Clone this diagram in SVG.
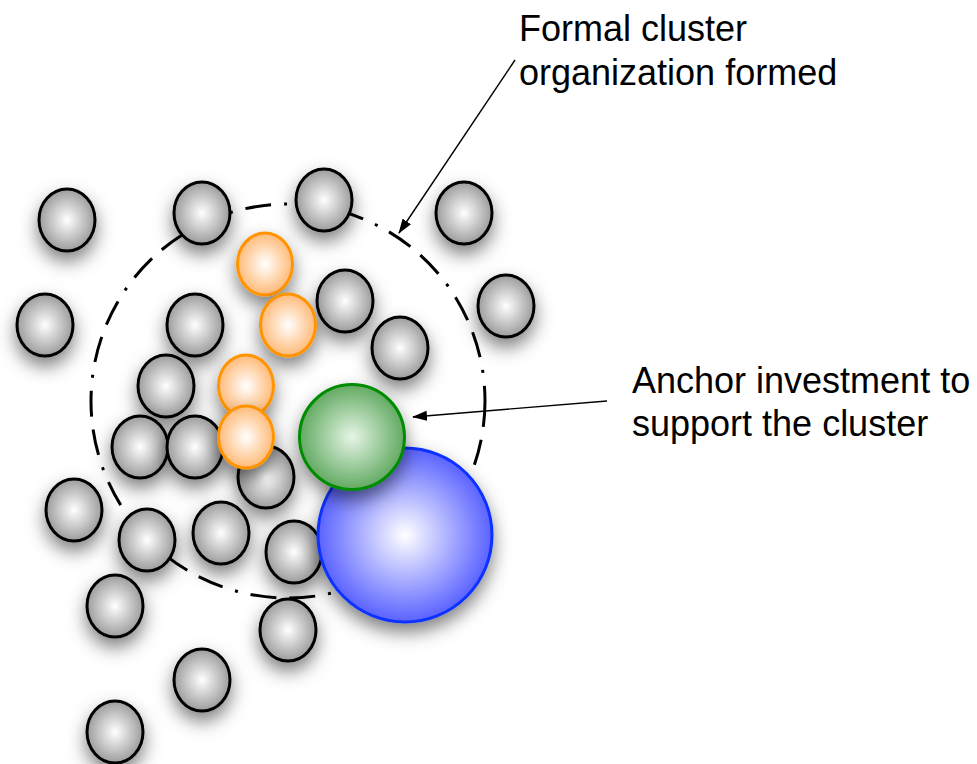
<svg xmlns="http://www.w3.org/2000/svg" width="977" height="764" viewBox="0 0 977 764">
<style>
.g{fill:url(#gGray);stroke:#000;stroke-width:3;filter:url(#sh)}
.o{fill:url(#gOrange);stroke:#ff9400;stroke-width:3;filter:url(#sh)}
.lbl{font-family:"Gill Sans","Liberation Sans",Arial,sans-serif;font-size:36px;fill:#000}
.arr{stroke:#000;stroke-width:1.4;fill:none;marker-end:url(#ah)}
</style>
<defs>
<radialGradient id="gGray" cx="50%" cy="50%" r="50%">
<stop offset="0" stop-color="#ffffff"/>
<stop offset="1" stop-color="#9c9c9c"/>
</radialGradient>
<radialGradient id="gOrange" cx="50%" cy="50%" r="50%">
<stop offset="0" stop-color="#ffffff"/>
<stop offset="1" stop-color="#ffba78"/>
</radialGradient>
<radialGradient id="gGreen" cx="50%" cy="50%" r="50%">
<stop offset="0" stop-color="#e6f5e6"/>
<stop offset="1" stop-color="#62aa62"/>
</radialGradient>
<radialGradient id="gBlue" cx="50%" cy="50%" r="50%">
<stop offset="0" stop-color="#ffffff"/>
<stop offset="1" stop-color="#5a62ff"/>
</radialGradient>
<filter id="sh" x="-60%" y="-60%" width="220%" height="220%">
<feDropShadow dx="0" dy="9" stdDeviation="9" flood-color="#000" flood-opacity="0.5"/>
</filter>
<marker id="ah" markerWidth="16" markerHeight="12" refX="14" refY="5" orient="auto" markerUnits="userSpaceOnUse">
<path d="M0,0 L15,5 L0,10 Z" fill="#000"/>
</marker>
</defs>

<g id="boundary">
<circle cx="288" cy="401" r="197" fill="none" stroke="#000" stroke-width="3" stroke-dasharray="26 13 26 13 3 13"/>
</g>

<g id="nodes">
<g id="n1"><ellipse class="g" cx="67" cy="220" rx="28" ry="31"/></g>
<g id="n2"><ellipse class="g" cx="202" cy="213" rx="28" ry="31"/></g>
<g id="n3"><ellipse class="g" cx="324" cy="200" rx="28" ry="31"/></g>
<g id="n4"><ellipse class="g" cx="464" cy="213" rx="28" ry="31"/></g>
<g id="n5"><ellipse class="g" cx="45" cy="325" rx="28" ry="31"/></g>
<g id="n6"><ellipse class="g" cx="195" cy="325" rx="28" ry="31"/></g>
<g id="n7"><ellipse class="g" cx="345" cy="301" rx="28" ry="31"/></g>
<g id="n8"><ellipse class="g" cx="506" cy="306" rx="28" ry="31"/></g>
<g id="n9"><ellipse class="g" cx="400" cy="348" rx="28" ry="31"/></g>
<g id="n10"><ellipse class="g" cx="166" cy="386" rx="28" ry="31"/></g>
<g id="n11"><ellipse class="g" cx="140" cy="447" rx="28" ry="31"/></g>
<g id="n12"><ellipse class="g" cx="195" cy="447" rx="28" ry="31"/></g>
<g id="n13"><ellipse class="g" cx="266" cy="477" rx="28" ry="31"/></g>
<g id="n14"><ellipse class="g" cx="74" cy="510" rx="28" ry="31"/></g>
<g id="n15"><ellipse class="g" cx="147" cy="540" rx="28" ry="31"/></g>
<g id="n16"><ellipse class="g" cx="221" cy="533" rx="28" ry="31"/></g>
<g id="n17"><ellipse class="g" cx="294" cy="552" rx="28" ry="31"/></g>
<g id="n18"><ellipse class="g" cx="115" cy="606" rx="28" ry="31"/></g>
<g id="n19"><ellipse class="g" cx="288" cy="630" rx="28" ry="31"/></g>
<g id="n20"><ellipse class="g" cx="202" cy="680" rx="28" ry="31"/></g>
<g id="n21"><ellipse class="g" cx="115" cy="732" rx="28" ry="31"/></g>

<g id="o1"><ellipse class="o" cx="265" cy="264" rx="27.5" ry="31"/></g>
<g id="o2"><ellipse class="o" cx="288" cy="325" rx="27.5" ry="31"/></g>
<g id="o3"><ellipse class="o" cx="246" cy="386" rx="27.5" ry="31"/></g>
<g id="o4"><ellipse class="o" cx="246" cy="437" rx="27.5" ry="31"/></g>

<g id="blue"><circle cx="405" cy="535" r="87" fill="url(#gBlue)" stroke="#0a32ff" stroke-width="3" filter="url(#sh)"/></g>
<g id="green"><circle cx="352" cy="437" r="52.5" fill="url(#gGreen)" stroke="#008c00" stroke-width="3" filter="url(#sh)"/></g>
</g>

<g id="connectors">
<line class="arr" x1="515" y1="60" x2="399" y2="233"/>
<line class="arr" x1="607" y1="401" x2="413" y2="417"/>
</g>

<g id="labels">
<text class="lbl" x="519" y="41">Formal cluster</text>
<text class="lbl" x="519" y="85">organization formed</text>
<text class="lbl" x="632" y="393">Anchor investment to</text>
<text class="lbl" x="632" y="436">support the cluster</text>
</g>
</svg>
